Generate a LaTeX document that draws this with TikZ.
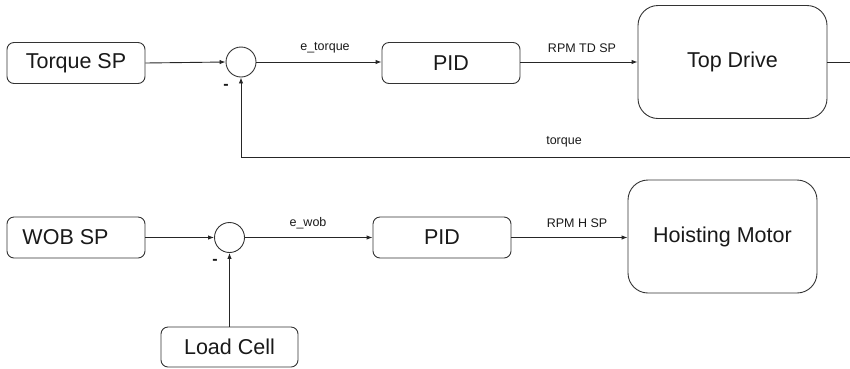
\documentclass[tikz,border=0pt]{standalone}
\usepackage{fontspec}
\setmainfont{Liberation Sans}
\usetikzlibrary{arrows.meta}
\begin{document}
\begin{tikzpicture}[x=1pt,y=-1pt,
  every node/.style={inner sep=0pt, text=black!90},
  box/.style={draw=black!80, line width=0.9pt, rounded corners=7pt,
    minimum width=138pt, minimum height=41pt, font=\fontsize{21.5}{24}\selectfont},
  bigbox/.style={draw=black!80, line width=0.9pt, rounded corners=20pt,
    minimum width=189pt, minimum height=113pt, font=\fontsize{21.5}{24}\selectfont},
  sumj/.style={draw=black!80, line width=0.9pt, circle, minimum size=30pt},
  sig/.style={draw=black!85, line width=0.9pt, -{Latex[length=6pt,width=4.5pt]}},
  wire/.style={draw=black!85, line width=0.9pt},
  lbl/.style={font=\fontsize{12.5}{14}\selectfont},
  minus/.style={font=\fontsize{16}{16}\selectfont\bfseries}]
\useasboundingbox (0,0) rectangle (850,368);

% torque loop
\node[box] (tsp) at (76,63) {Torque SP};
\node[sumj] (s1) at (241,62) {};
\node[box] (pid1) at (451,63) {PID};
\node[bigbox] (td) at (732.5,62) {Top Drive};
\coordinate (tdout) at (850,62);
\coordinate (fbr) at (850,157);
\coordinate (fbl) at (241,157);
\node[minus] (m1) at (226,87) {-};

\draw[sig] (tsp.east) -- (s1.west);
\draw[sig] (s1.east) -- (pid1.west |- s1.east);
\node[lbl] (le) at (325,48) {e\_torque};
\draw[sig] (pid1.east |- td.west) -- (td.west);
\node[lbl] (lr1) at (582,48) {RPM TD SP};
\draw[wire] (td.east) -- (tdout);
\draw[sig] (fbr) -- (fbl) -- (s1.south);
\node[lbl] (lt) at (564,142) {torque};

% weight-on-bit loop
\node[box] (wsp) at (76,237.5) {WOB SP\hspace*{21pt}};
\node[sumj] (s2) at (229.5,237.5) {};
\node[box] (pid2) at (442,237.5) {PID};
\node[bigbox] (hm) at (722.5,236.5) {Hoisting Motor};
\node[box, minimum width=137pt, minimum height=40pt] (lc) at (229.5,347) {Load Cell};
\node[minus] (m2) at (215,262) {-};

\draw[sig] (wsp.east) -- (s2.west);
\draw[sig] (s2.east) -- (pid2.west |- s2.east);
\node[lbl] (lw) at (308,223) {e\_wob};
\draw[sig] (pid2.east) -- (hm.west |- pid2.east);
\node[lbl] (lr2) at (577,223) {RPM H SP};
\draw[sig] (lc.north) -- (s2.south);
\end{tikzpicture}
\end{document}
